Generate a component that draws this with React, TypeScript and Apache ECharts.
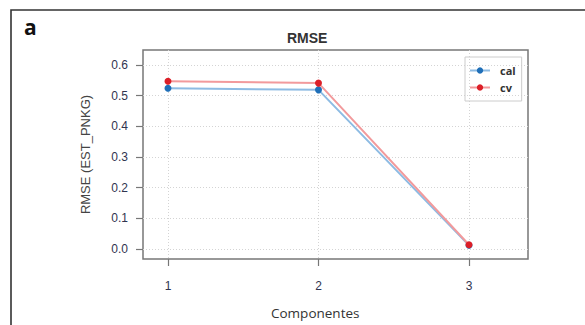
import React, { useEffect, useRef } from "react";
import * as echarts from "echarts";

const components = [1, 2, 3];
const calValues = [0.524, 0.519, 0.012];
const cvValues = [0.547, 0.541, 0.014];
const xTickValues = [1, 2, 3];
const yTickValues = [0, 0.1, 0.2, 0.3, 0.4, 0.5, 0.6];
const seriesNames = ["cal", "cv"];

export default function App() {
  const ref = useRef<HTMLDivElement>(null);
  useEffect(() => {
    if (!ref.current) return;
    const chart = echarts.init(ref.current, undefined, { renderer: "svg" });
    const labelColor = "#30344f";
    chart.setOption({
      animation: false,
      backgroundColor: "#ffffff",
      title: [
        {
          text: "a",
          left: 19,
          top: 11,
          textStyle: { fontFamily: "Open Sans", fontWeight: "bold", fontSize: 21, color: "#111" },
        },
        {
          text: "RMSE",
          left: 282,
          top: 26,
          textStyle: { fontFamily: "Liberation Sans", fontWeight: "bold", fontSize: 14, color: "#333" },
        },
        {
          text: "Componentes",
          left: 266,
          top: 301,
          textStyle: { fontFamily: "Open Sans", fontWeight: "normal", fontSize: 13.5, color: "#333" },
        },
      ],
      graphic: [
        {
          type: "rect",
          shape: { x: 11, y: 10, width: 700, height: 500 },
          style: { fill: "none", stroke: "#333", lineWidth: 1.6 },
          silent: true,
        },
      ],
      legend: {
        data: seriesNames,
        orient: "vertical",
        left: 465,
        top: 57,
        padding: [8, 6, 8, 4],
        itemWidth: 20,
        itemHeight: 8,
        itemGap: 6,
        borderColor: "#cccccc",
        borderWidth: 1,
        textStyle: {
          fontFamily: "Open Sans",
          fontSize: 11,
          fontWeight: "bold",
          color: "#333",
          padding: [0, 0, 0, 5],
        },
      },
      grid: {
        left: 143,
        top: 50,
        width: 385,
        height: 209,
        show: true,
        borderColor: "#777",
        borderWidth: 1.5,
        containLabel: false,
      },
      xAxis: {
        type: "value",
        min: 0.834,
        max: 3.392,
        minInterval: 0.5,
        maxInterval: 0.5,
        axisLine: { show: false, onZero: false },
        axisTick: {
          show: true,
          customValues: xTickValues,
          length: 7,
          lineStyle: { color: "#777", width: 1.2 },
        },
        axisLabel: {
          customValues: xTickValues,
          margin: 21,
          color: labelColor,
          fontFamily: "Liberation Sans",
          fontSize: 12,
        },
        splitLine: { show: true, lineStyle: { color: "#d4d4d4", type: [1, 2], width: 1 } },
      },
      yAxis: {
        type: "value",
        min: -0.0326,
        max: 0.649,
        minInterval: 0.1,
        maxInterval: 0.1,
        name: "RMSE (EST_PNKG)",
        nameLocation: "middle",
        nameGap: 51,
        nameTextStyle: { fontFamily: "Liberation Sans", fontSize: 13, color: "#444" },
        axisLine: { show: false, onZero: false },
        axisTick: {
          show: true,
          customValues: yTickValues,
          length: 7,
          lineStyle: { color: "#777", width: 1.2 },
        },
        axisLabel: {
          customValues: yTickValues,
          margin: 15,
          color: labelColor,
          fontFamily: "Liberation Sans",
          fontSize: 12,
          formatter: (v: number) => v.toFixed(1),
        },
        splitLine: { show: true, lineStyle: { color: "#d4d4d4", type: [1, 2], width: 1 } },
      },
      series: [
        {
          name: seriesNames[0],
          type: "line",
          data: components.map((c, i) => [c, calValues[i]]),
          symbol: "circle",
          symbolSize: 7,
          itemStyle: { color: "#1f6fb8" },
          lineStyle: { color: "#8dbbe3", width: 2 },
          z: 2,
        },
        {
          name: seriesNames[1],
          type: "line",
          data: components.map((c, i) => [c, cvValues[i]]),
          symbol: "circle",
          symbolSize: 7,
          itemStyle: { color: "#dc1f28" },
          lineStyle: { color: "#f29a9c", width: 2 },
          z: 3,
        },
      ],
    });
    return () => chart.dispose();
  }, []);
  return (
    <div
      ref={ref}
      style={{ position: "fixed", left: 0, top: 0, width: 585, height: 325, background: "#fff" }}
    />
  );
}
